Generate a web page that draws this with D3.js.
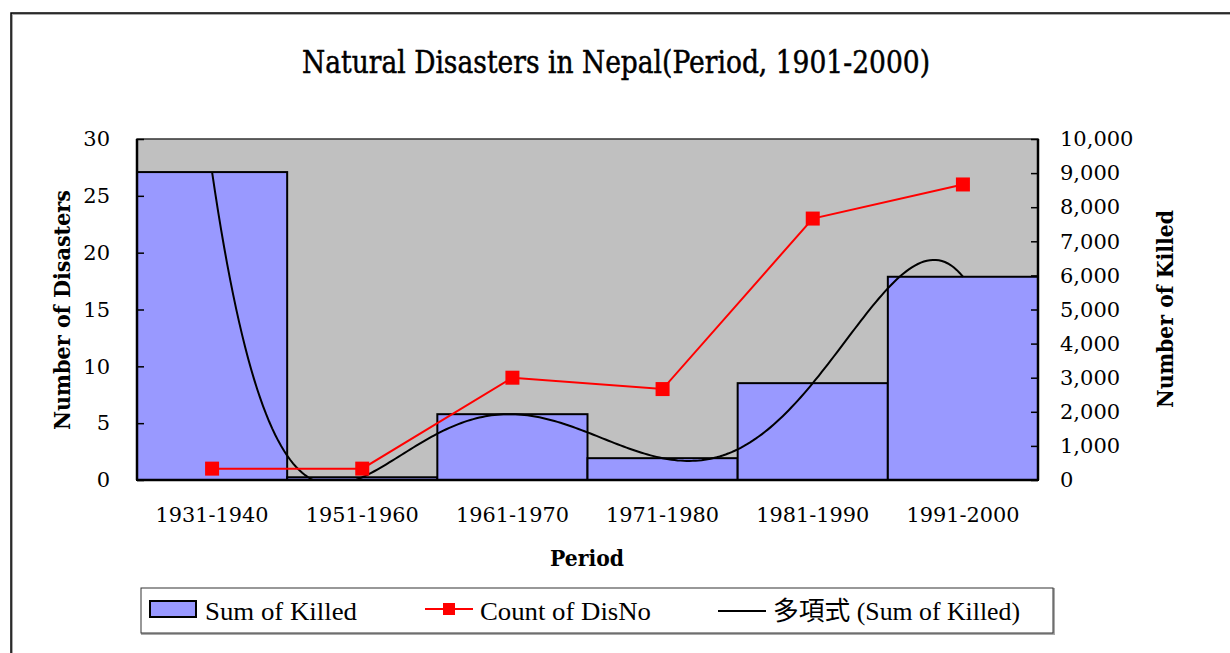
<!DOCTYPE html>
<html>
<head>
<meta charset="utf-8">
<script src="https://cdn.jsdelivr.net/npm/d3@7"></script>
<style>
  body { margin: 0; background: #fff; }
  svg text { fill: #000; }
</style>
</head>
<body>
<div id="chart"></div>
<script>
// data
const periods = ["1931-1940", "1951-1960", "1961-1970", "1971-1980", "1981-1990", "1991-2000"];
const sumKilled = [9030, 80, 1930, 640, 2840, 5960];
const countDisNo = [1, 1, 9, 8, 23, 26];
const leftTicks = [0, 5, 10, 15, 20, 25, 30];
const rightTicks = [0, 1000, 2000, 3000, 4000, 5000, 6000, 7000, 8000, 9000, 10000];

const W = 1230, H = 653;
const margin = ({top: 139, right: 192, bottom: 173, left: 137});
const width = W - margin.left - margin.right,
      height = H - margin.top - margin.bottom;
const serif = "'DejaVu Serif', serif";

const svg = d3.select("#chart")
              .append("svg")
              .attr("width", W)
              .attr("height", H)
              .style("font-family", serif);

// outer chart frame with shadow
svg.append("rect")
   .attr("x", 12).attr("y", 14)
   .attr("width", W).attr("height", H)
   .attr("fill", "none").attr("stroke", "#aaa").attr("stroke-width", 2);
svg.append("rect")
   .attr("x", 11).attr("y", 13)
   .attr("width", W).attr("height", H)
   .attr("fill", "none").attr("stroke", "#000").attr("stroke-width", 1.5);

svg.append("text")
   .attr("x", 616).attr("y", 73)
   .attr("text-anchor", "middle")
   .attr("font-size", 31)
   .style("font-family", serif)
   .attr("stroke", "#000").attr("stroke-width", 0.5)
   .attr("textLength", 628)
   .attr("lengthAdjust", "spacingAndGlyphs")
   .text("Natural Disasters in Nepal(Period, 1901-2000)");

const g = svg.append("g")
             .attr("transform", `translate(${margin.left},${margin.top})`);

const xScale = d3.scaleBand()
                 .domain(periods)
                 .range([0, width])
                 .padding(0);
const yLeft = d3.scaleLinear().domain([0, 30]).range([height, 0]);
const yRight = d3.scaleLinear().domain([0, 10000]).range([height, 0]);

g.append("clipPath").attr("id", "plotclip")
 .append("rect").attr("width", width).attr("height", height);

g.append("rect")
 .attr("width", width).attr("height", height)
 .attr("fill", "#c0c0c0")
 .attr("stroke", "#333").attr("stroke-width", 1.5);

// bars (Sum of Killed, right axis)
g.selectAll("rect.bar")
 .data(periods)
 .enter()
 .append("rect")
 .attr("class", "bar")
 .attr("x", d => xScale(d))
 .attr("y", (d, i) => yRight(sumKilled[i]))
 .attr("width", xScale.bandwidth())
 .attr("height", (d, i) => height - yRight(sumKilled[i]))
 .attr("fill", "#9999ff")
 .attr("stroke", "#000")
 .attr("stroke-width", 2);

// polynomial trendline (order 5) of Sum of Killed, least squares on x = 1..n
function polyfit(xs, ys, deg) {
    const n = deg + 1;
    const A = [];
    for (let r = 0; r < n; r++) {
        A.push([]);
        for (let c = 0; c < n; c++) A[r].push(d3.sum(xs, x => Math.pow(x, r + c)));
        A[r].push(d3.sum(xs, (x, i) => ys[i] * Math.pow(x, r)));
    }
    for (let p = 0; p < n; p++) {
        let m = p;
        for (let r = p + 1; r < n; r++) if (Math.abs(A[r][p]) > Math.abs(A[m][p])) m = r;
        [A[p], A[m]] = [A[m], A[p]];
        for (let r = 0; r < n; r++) {
            if (r === p) continue;
            const f = A[r][p] / A[p][p];
            for (let c = p; c <= n; c++) A[r][c] -= f * A[p][c];
        }
    }
    return A.map((row, i) => row[n] / row[i]);
}
const xs = periods.map((d, i) => i + 1);
const coef = polyfit(xs, sumKilled, 5);
const trend = d3.range(1, periods.length + 0.0001, 0.02)
                .map(x => [x, d3.sum(coef, (c, k) => c * Math.pow(x, k))]);
const xPos = v => xScale(periods[0]) + xScale.bandwidth() / 2 + (v - 1) * xScale.step();

g.append("path")
 .datum(trend)
 .attr("clip-path", "url(#plotclip)")
 .attr("fill", "none")
 .attr("stroke", "#000")
 .attr("stroke-width", 2)
 .attr("d", d3.line().x(d => xPos(d[0])).y(d => yRight(d[1])));

// Count of DisNo (left axis)
g.append("path")
 .datum(countDisNo)
 .attr("fill", "none")
 .attr("stroke", "#ff0000")
 .attr("stroke-width", 2)
 .attr("d", d3.line().x((d, i) => xScale(periods[i]) + xScale.bandwidth() / 2).y(d => yLeft(d)));

g.selectAll("rect.marker")
 .data(countDisNo)
 .enter()
 .append("rect")
 .attr("class", "marker")
 .attr("x", (d, i) => xScale(periods[i]) + xScale.bandwidth() / 2 - 7)
 .attr("y", d => yLeft(d) - 7)
 .attr("width", 14).attr("height", 14)
 .attr("fill", "#ff0000");

// axes
const leftAxis = g.append("g")
                  .call(d3.axisLeft(yLeft).tickValues(leftTicks).tickSize(-7).tickPadding(27));
const rightAxis = g.append("g")
                   .attr("transform", `translate(${width},0)`)
                   .call(d3.axisRight(yRight).tickValues(rightTicks).tickSize(-7).tickPadding(22)
                           .tickFormat(d3.format(",")));
const bottomAxis = g.append("g")
                    .attr("transform", `translate(0,${height})`)
                    .call(d3.axisBottom(xScale).tickSize(0).tickPadding(27));
[leftAxis, rightAxis, bottomAxis].forEach(a => {
    a.attr("font-family", null).attr("font-size", null);
    a.select(".domain").attr("stroke", "#000").attr("stroke-width", 2.5);
    a.selectAll(".tick line").attr("stroke", "#000").attr("stroke-width", 1.5);
    a.selectAll("text").attr("font-size", 21).style("font-family", serif).attr("fill", "#000");
});
bottomAxis.selectAll("text").attr("textLength", 113).attr("lengthAdjust", "spacingAndGlyphs");
leftAxis.select(".domain").attr("d", `M0,0V${height}`);
rightAxis.select(".domain").attr("d", `M0,0V${height}`);
bottomAxis.select(".domain").attr("d", `M0,0H${width}`);

// axis titles
svg.append("text")
   .attr("transform", "translate(70,310) rotate(-90)")
   .attr("text-anchor", "middle")
   .attr("font-size", 23).attr("font-weight", "bold")
   .attr("textLength", 240).attr("lengthAdjust", "spacingAndGlyphs")
   .text("Number of Disasters");
svg.append("text")
   .attr("transform", "translate(1173,309) rotate(-90)")
   .attr("text-anchor", "middle")
   .attr("font-size", 23).attr("font-weight", "bold")
   .attr("textLength", 198).attr("lengthAdjust", "spacingAndGlyphs")
   .text("Number of Killed");
svg.append("text")
   .attr("x", 587).attr("y", 566)
   .attr("text-anchor", "middle")
   .attr("font-size", 23).attr("font-weight", "bold")
   .attr("textLength", 74).attr("lengthAdjust", "spacingAndGlyphs")
   .text("Period");

// legend
const legend = svg.append("g");
legend.append("rect")
      .attr("x", 142).attr("y", 589).attr("width", 912).attr("height", 45)
      .attr("fill", "none").attr("stroke", "#aaa").attr("stroke-width", 2);
legend.append("rect")
      .attr("x", 141).attr("y", 588).attr("width", 912).attr("height", 45)
      .attr("fill", "#fff").attr("stroke", "#333").attr("stroke-width", 1);
legend.append("rect")
      .attr("x", 150).attr("y", 601).attr("width", 46).attr("height", 16)
      .attr("fill", "#9999ff").attr("stroke", "#000").attr("stroke-width", 2);
legend.append("line")
      .attr("x1", 425).attr("x2", 473).attr("y1", 609).attr("y2", 609)
      .attr("stroke", "#ff0000").attr("stroke-width", 2);
legend.append("rect")
      .attr("x", 443).attr("y", 603).attr("width", 12).attr("height", 12)
      .attr("fill", "#ff0000");
legend.append("line")
      .attr("x1", 718).attr("x2", 766).attr("y1", 611).attr("y2", 611)
      .attr("stroke", "#000").attr("stroke-width", 2);
const legendItems = [
    {label: "Sum of Killed", x: 205, len: 152},
    {label: "Count of DisNo", x: 480, len: 171},
    {label: "多項式 (Sum of Killed)", x: 773, len: 247}
];
legend.selectAll("text.lg")
      .data(legendItems)
      .enter()
      .append("text")
      .attr("class", "lg")
      .attr("x", d => d.x).attr("y", 620)
      .attr("font-size", 26)
      .style("font-family", "'Liberation Serif', 'Noto Sans CJK JP', serif")
      .attr("textLength", d => d.len).attr("lengthAdjust", "spacingAndGlyphs")
      .text(d => d.label);
</script>
</body>
</html>
